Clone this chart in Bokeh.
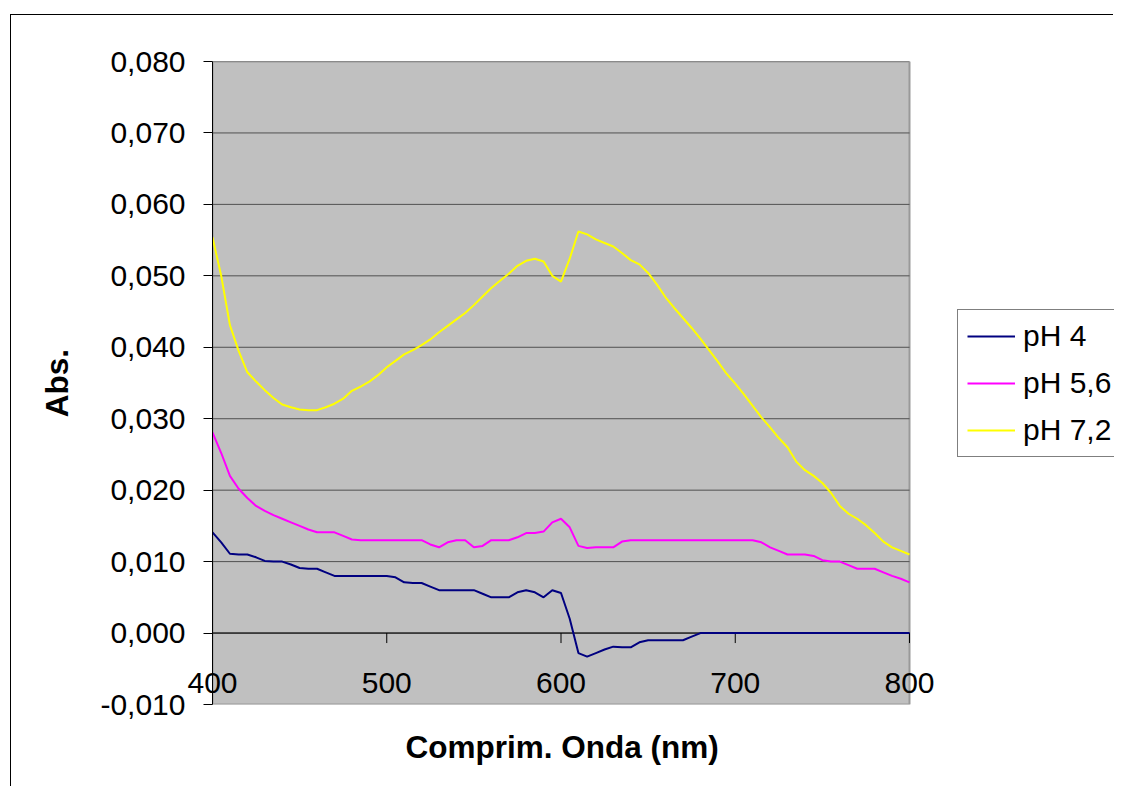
from bokeh.plotting import figure
from bokeh.models import Range1d, FixedTicker, CustomJSTickFormatter, Legend, LegendItem, Title
from bokeh.embed import file_html
from bokeh.resources import INLINE

# ---- data ----
wavelength = list(range(400, 805, 5))

ph4 = [0.0141, 0.0127, 0.0111, 0.0110, 0.0110, 0.0106, 0.0101, 0.0100, 0.0100, 0.0096,
       0.0091, 0.0090, 0.0090, 0.0085, 0.0080, 0.0080, 0.0080, 0.0080, 0.0080, 0.0080,
       0.0080, 0.0078, 0.0071, 0.0070, 0.0070, 0.0065, 0.0060, 0.0060, 0.0060, 0.0060,
       0.0060, 0.0055, 0.0050, 0.0050, 0.0050, 0.0057, 0.0060, 0.0057, 0.0050, 0.0060,
       0.0056, 0.0020, -0.0028, -0.0033, -0.0028, -0.0023, -0.0019, -0.0020, -0.0020, -0.0013,
       -0.0010, -0.0010, -0.0010, -0.0010, -0.0010, -0.0005, 0.0000, 0.0000, 0.0000, 0.0000,
       0.0000, 0.0000, 0.0000, 0.0000, 0.0000, 0.0000, 0.0000, 0.0000, 0.0000, 0.0000,
       0.0000, 0.0000, 0.0000, 0.0000, 0.0000, 0.0000, 0.0000, 0.0000, 0.0000, 0.0000,
       0.0000]

ph56 = [0.0281, 0.0252, 0.0220, 0.0202, 0.0189, 0.0178, 0.0171, 0.0165, 0.0160, 0.0155,
        0.0150, 0.0145, 0.0141, 0.0141, 0.0141, 0.0136, 0.0131, 0.0130, 0.0130, 0.0130,
        0.0130, 0.0130, 0.0130, 0.0130, 0.0130, 0.0124, 0.0120, 0.0127, 0.0130, 0.0130,
        0.0120, 0.0122, 0.0130, 0.0130, 0.0130, 0.0134, 0.0140, 0.0140, 0.0142, 0.0155,
        0.0160, 0.0148, 0.0122, 0.0119, 0.0120, 0.0120, 0.0120, 0.0128, 0.0130, 0.0130,
        0.0130, 0.0130, 0.0130, 0.0130, 0.0130, 0.0130, 0.0130, 0.0130, 0.0130, 0.0130,
        0.0130, 0.0130, 0.0130, 0.0127, 0.0120, 0.0115, 0.0110, 0.0110, 0.0110, 0.0108,
        0.0102, 0.0100, 0.0100, 0.0095, 0.0090, 0.0090, 0.0090, 0.0085, 0.0080, 0.0076,
        0.0071]

ph72 = [0.0554, 0.0500, 0.0431, 0.0395, 0.0365, 0.0352, 0.0340, 0.0329, 0.0320, 0.0316,
        0.0313, 0.0312, 0.0312, 0.0316, 0.0321, 0.0328, 0.0339, 0.0345, 0.0352, 0.0361,
        0.0372, 0.0381, 0.0390, 0.0396, 0.0403, 0.0411, 0.0421, 0.0430, 0.0439, 0.0448,
        0.0459, 0.0471, 0.0483, 0.0493, 0.0503, 0.0514, 0.0521, 0.0524, 0.0520, 0.0500,
        0.0492, 0.0524, 0.0562, 0.0558, 0.0551, 0.0546, 0.0541, 0.0532, 0.0522, 0.0516,
        0.0504, 0.0488, 0.0470, 0.0455, 0.0441, 0.0427, 0.0412, 0.0396, 0.0380, 0.0363,
        0.0349, 0.0334, 0.0318, 0.0302, 0.0288, 0.0273, 0.0260, 0.0240, 0.0228, 0.0220,
        0.0210, 0.0196, 0.0178, 0.0167, 0.0160, 0.0151, 0.0140, 0.0128, 0.0120, 0.0115,
        0.0110]

series_names = ["pH 4", "pH 5,6", "pH 7,2"]
series_colors = ["#000080", "#FF00FF", "#FFFF00"]
x_ticks = [400, 500, 600, 700, 800]
y_ticks = [-0.010, 0.000, 0.010, 0.020, 0.030, 0.040, 0.050, 0.060, 0.070, 0.080]
x_axis_crossing = 0.0
x_tick_len = 0.0014  # tick length below the crossing line, in data units

FONT = "Liberation Sans"

# layout: the frame runs to the right edge so the legend can sit right of the plot area
W, H = 1103, 772
LEFT, TOP, BOTTOM = 201, 46, 83
PLOT_PX = 697  # pixel width of the 400..800 plot area
x_lo, x_hi = x_ticks[0], x_ticks[-1]
y_lo, y_hi = y_ticks[0], y_ticks[-1]
x_view_hi = x_lo + (x_hi - x_lo) * (W - LEFT) / PLOT_PX

p = figure(width=W, height=H, output_backend="svg", toolbar_location=None,
           x_range=Range1d(x_lo, x_view_hi), y_range=Range1d(y_lo, y_hi),
           min_border_left=LEFT, min_border_right=0, min_border_top=TOP, min_border_bottom=BOTTOM,
           background_fill_color="white", border_fill_color="white")
# outer chart-area frame: offset from the page corner, top and left edges drawn
p.stylesheets = [":host { margin-left: 11px !important; margin-top: 15px !important; "
                 "box-shadow: -1px -1px 0px 0px #000000; }"]
p.outline_line_color = None

# plot area
p.quad(left=[x_lo], right=[x_hi], bottom=[y_lo], top=[y_hi],
       fill_color="#C0C0C0", line_color="#999999", line_width=2)

# grid lines (within the plot area only)
p.xgrid.visible = False
p.ygrid.visible = False
grid_y = y_ticks[1:]
p.segment(x0=[x_lo] * len(grid_y), x1=[x_hi] * len(grid_y), y0=grid_y, y1=grid_y,
          line_color="#505050", line_width=1)

# y axis
ya = p.yaxis[0]
ya.ticker = FixedTicker(ticks=y_ticks)
ya.formatter = CustomJSTickFormatter(
    code="var t = Math.abs(tick) < 1e-9 ? 0 : tick; return t.toFixed(3).replace('.', ',');")
ya.major_tick_out = 9
ya.major_tick_in = 0
ya.minor_tick_line_color = None
ya.axis_line_color = "black"
ya.major_tick_line_color = "black"
ya.major_label_text_font = FONT
ya.major_label_text_font_size = "30px"
ya.major_label_text_color = "black"
ya.major_label_standoff = 18
ya.axis_label = "Abs."
ya.axis_label_text_font = FONT
ya.axis_label_text_font_size = "31.5px"
ya.axis_label_text_font_style = "bold"
ya.axis_label_text_color = "black"
ya.axis_label_standoff = 22

# x axis: labels drawn up near the y = 0 crossing line
xa = p.xaxis[0]
xa.ticker = FixedTicker(ticks=x_ticks)
xa.major_tick_out = 0
xa.major_tick_in = 0
xa.major_tick_line_color = None
xa.minor_tick_line_color = None
xa.axis_line_color = None
xa.major_label_text_font = FONT
xa.major_label_text_font_size = "30px"
xa.major_label_text_color = "black"
xa.major_label_standoff = -32

# x axis title, under the 400..800 plot area
p.add_layout(Title(text="Comprim. Onda (nm)", align="left", offset=193,
                   text_font=FONT, text_font_size="31.5px", text_font_style="bold",
                   text_color="black", standoff=44), "below")

# crossing line and its ticks
p.segment(x0=[x_lo], x1=[x_hi], y0=[x_axis_crossing], y1=[x_axis_crossing],
          line_color="black", line_width=1)
p.segment(x0=x_ticks, y0=[x_axis_crossing] * len(x_ticks), x1=x_ticks,
          y1=[x_axis_crossing - x_tick_len] * len(x_ticks), line_color="black", line_width=1)

items = []
for name, ys, col in zip(series_names, [ph4, ph56, ph72], series_colors):
    r = p.line(wavelength, ys, line_color=col, line_width=2)
    items.append(LegendItem(label=name, renderers=[r]))

legend = Legend(items=items, location=(745, 247))
legend.label_text_font = FONT
legend.label_text_font_size = "30px"
legend.label_text_color = "black"
legend.glyph_width = 48
legend.glyph_height = 20
legend.label_standoff = 8
legend.spacing = 13
legend.padding = 9
legend.margin = 0
legend.border_line_color = "black"
legend.border_line_width = 1
legend.background_fill_color = "white"
legend.background_fill_alpha = 1
p.add_layout(legend)

open("out.html", "w").write(file_html(p, INLINE))
